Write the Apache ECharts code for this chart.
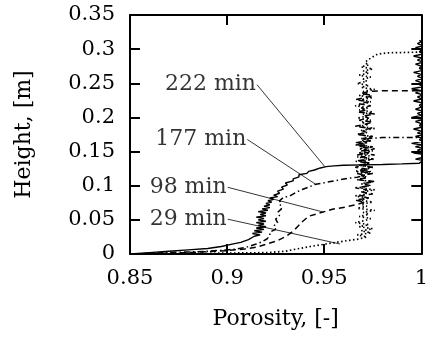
<!DOCTYPE html>
<html><head><meta charset="utf-8">
<script src="https://cdn.jsdelivr.net/npm/echarts@6/dist/echarts.min.js"></script>
<style>html,body{margin:0;padding:0;background:#fff}#c{width:431px;height:338px}</style>
</head><body><div id="c"></div>
<script>
// ---- data: [porosity, height] ----
const curve222 = [
[0.850,0.000],[0.860,0.002],[0.870,0.004],[0.880,0.006],[0.890,0.008],[0.897,0.011],[0.902,0.014],[0.907,0.017],[0.911,0.021],[0.914,0.026],
[0.917,0.028],[0.913,0.030],[0.918,0.032],[0.914,0.034],[0.919,0.036],[0.915,0.038],[0.920,0.040],[0.916,0.042],[0.919,0.044],[0.915,0.046],
[0.920,0.048],[0.916,0.050],[0.919,0.052],[0.915,0.054],[0.920,0.056],[0.917,0.058],[0.920,0.060],[0.916,0.062],[0.921,0.064],[0.918,0.066],
[0.922,0.068],[0.919,0.070],[0.922,0.072],[0.920,0.074],[0.923,0.076],[0.921,0.078],[0.924,0.080],[0.922,0.082],[0.926,0.084],[0.924,0.086],
[0.927,0.089],[0.926,0.092],[0.929,0.095],[0.928,0.098],[0.931,0.101],[0.930,0.104],[0.934,0.107],[0.934,0.110],[0.937,0.113],[0.937,0.116],
[0.941,0.118],[0.942,0.121],[0.945,0.123],[0.948,0.126],[0.951,0.128],[0.955,0.129],[0.960,0.130],[0.970,0.1305],[0.980,0.131],[0.990,0.132],[0.999,0.133],
[0.998,0.135],[1.001,0.137],[0.997,0.139],[1.000,0.141],[0.999,0.143],[1.001,0.146],[0.996,0.148],[1.000,0.150],[0.998,0.152],[1.001,0.155],
[0.997,0.157],[1.000,0.160],[0.995,0.162],[1.001,0.165],[0.999,0.167],[1.000,0.170],[0.997,0.172],[1.001,0.175],[0.998,0.177],[1.000,0.180],
[0.996,0.183],[1.001,0.186],[0.999,0.188],[1.000,0.191],[0.997,0.194],[1.001,0.197],[0.995,0.200],[1.000,0.203],[0.998,0.206],[1.001,0.209],
[0.997,0.212],[1.000,0.215],[0.999,0.218],[1.001,0.221],[0.996,0.224],[1.000,0.227],[0.998,0.230],[1.001,0.233],[0.997,0.236],[1.000,0.239],
[0.995,0.242],[1.001,0.245],[0.999,0.248],[1.000,0.251],[0.997,0.254],[1.001,0.257],[0.998,0.260],[1.000,0.263],[0.996,0.266],[1.001,0.269],
[0.999,0.272],[1.000,0.275],[0.997,0.278],[1.001,0.281],[0.998,0.284],[1.000,0.287],[0.996,0.290],[1.001,0.293],[0.999,0.296],[1.000,0.299],
[0.997,0.302],[1.001,0.305],[0.998,0.308],[1.000,0.311],[0.999,0.313]
];
const curve177 = [
[0.850,0.000],[0.870,0.002],[0.890,0.004],[0.900,0.006],[0.905,0.0073],[0.910,0.010],[0.915,0.0146],[0.918,0.018],[0.9205,0.022],[0.922,0.027],
[0.922,0.032],[0.925,0.036],[0.924,0.041],[0.926,0.046],[0.925,0.051],[0.927,0.056],[0.926,0.061],[0.928,0.066],[0.927,0.070],[0.928,0.074],
[0.927,0.078],[0.929,0.083],[0.932,0.0846],[0.9356,0.0904],[0.939,0.0948],[0.9456,0.102],[0.954,0.1065],[0.962,0.1108],[0.967,0.1123],
[0.971,0.115],[0.967,0.118],[0.974,0.121],[0.969,0.124],[0.975,0.127],[0.968,0.130],[0.973,0.133],[0.966,0.136],[0.972,0.139],[0.969,0.142],
[0.976,0.145],[0.968,0.148],[0.973,0.151],[0.970,0.154],[0.975,0.157],[0.967,0.160],[0.972,0.163],[0.969,0.166],[0.973,0.169],
[0.980,0.1705],[0.990,0.1705],[1.000,0.1706]
];
const curve98 = [
[0.850,0.000],[0.880,0.002],[0.900,0.005],[0.909,0.0073],[0.9154,0.0102],[0.9205,0.0146],[0.9255,0.019],[0.9305,0.026],[0.934,0.0335],[0.9366,0.041],
[0.939,0.048],[0.9421,0.0554],[0.9492,0.0613],[0.9542,0.0656],[0.9607,0.0685],[0.9673,0.0729],
[0.971,0.076],[0.966,0.079],[0.973,0.082],[0.968,0.085],[0.975,0.088],[0.969,0.091],[0.972,0.094],[0.966,0.097],[0.974,0.100],[0.970,0.103],
[0.976,0.106],[0.967,0.109],[0.972,0.112],[0.969,0.115],[0.975,0.118],[0.968,0.121],[0.973,0.124],[0.966,0.127],[0.971,0.130],[0.974,0.133],
[0.968,0.136],[0.975,0.139],[0.970,0.142],[0.967,0.145],[0.973,0.148],[0.969,0.151],[0.976,0.154],[0.968,0.157],[0.972,0.160],[0.966,0.163],
[0.974,0.166],[0.970,0.169],[0.975,0.172],[0.967,0.175],[0.972,0.178],[0.969,0.181],[0.974,0.184],[0.966,0.187],[0.971,0.190],[0.975,0.193],
[0.968,0.196],[0.973,0.199],[0.970,0.202],[0.976,0.205],[0.967,0.208],[0.972,0.211],[0.969,0.214],[0.974,0.217],[0.968,0.220],[0.973,0.223],
[0.966,0.226],[0.971,0.229],[0.975,0.232],[0.969,0.235],[0.973,0.238],[0.980,0.239],[0.990,0.239],[1.000,0.239]
];
const curve29 = [
[0.850,0.000],[0.890,0.001],[0.920,0.002],[0.930,0.004],[0.9356,0.0073],[0.943,0.011],[0.9507,0.0146],[0.957,0.0175],[0.963,0.020],[0.968,0.022],
[0.972,0.025],[0.967,0.028],[0.974,0.031],[0.969,0.034],[0.975,0.037],[0.968,0.040],[0.973,0.043],[0.966,0.046],[0.971,0.049],[0.974,0.052],
[0.968,0.055],[0.973,0.058],[0.970,0.061],[0.976,0.064],[0.967,0.067],[0.972,0.070],[0.969,0.073],[0.975,0.076],[0.968,0.079],[0.973,0.082],
[0.966,0.085],[0.972,0.088],[0.970,0.091],[0.976,0.094],[0.968,0.097],[0.973,0.100],[0.969,0.103],[0.975,0.106],[0.967,0.109],[0.972,0.112],
[0.970,0.115],[0.974,0.118],[0.966,0.121],[0.971,0.124],[0.975,0.127],[0.968,0.130],[0.973,0.133],[0.969,0.136],[0.976,0.139],[0.967,0.142],
[0.972,0.145],[0.970,0.148],[0.975,0.151],[0.968,0.154],[0.973,0.157],[0.966,0.160],[0.971,0.163],[0.974,0.166],[0.969,0.169],[0.975,0.172],
[0.967,0.175],[0.972,0.178],[0.970,0.181],[0.976,0.184],[0.968,0.187],[0.973,0.190],[0.969,0.193],[0.974,0.196],[0.967,0.199],[0.972,0.202],
[0.970,0.205],[0.975,0.208],[0.968,0.211],[0.973,0.214],[0.966,0.217],[0.971,0.220],[0.974,0.223],[0.969,0.226],[0.975,0.229],[0.968,0.232],
[0.972,0.235],[0.970,0.238],[0.976,0.241],[0.969,0.244],[0.973,0.247],[0.967,0.250],[0.972,0.253],[0.970,0.256],[0.974,0.259],[0.968,0.262],
[0.973,0.265],[0.970,0.268],[0.975,0.271],[0.969,0.274],[0.973,0.277],[0.971,0.280],[0.9723,0.284],[0.9774,0.2925],[0.9824,0.2946],[0.990,0.2950],
[0.996,0.2955],[1.000,0.296]
];
// annotations: label, leader start (at label), leader end (on curve)
const annLabels = ['222 min','177 min','98 min','29 min'];
const annFrom = [[0.9154,0.2479],[0.9104,0.1677],[0.9003,0.0977],[0.9003,0.0510]];
const annTo   = [[0.9502,0.1283],[0.9456,0.1021],[0.9497,0.0613],[0.9582,0.0146]];
const xTicks = {min:0.85, max:1.0, step:0.05};
const yTicks = {min:0, max:0.35, step:0.05};

const FONT = 'DejaVu Serif';
const chart = echarts.init(document.getElementById('c'), null, {renderer:'canvas'});
const fmt = v => String(+(+v).toFixed(2));
const axisCommon = {
  axisLine:{show:true, onZero:false, lineStyle:{color:'#000', width:2}},
  axisTick:{show:true, inside:true, length:10, lineStyle:{color:'#000', width:2}},
  splitLine:{show:false}
};
const series = [];
function addCurve(d, type, width){
  series.push({type:'line', data:d, showSymbol:false, symbol:'none', silent:true,
    lineStyle:{color:'#000', width:width, type:type}, clip:true, z:3});
}
addCurve(curve222, 'solid', 1.4);
addCurve(curve177, [6,3,1.5,3], 1.5);
addCurve(curve98, [6,4], 1.5);
addCurve(curve29, [1.5,2.5], 1.7);
annLabels.forEach((t,i)=>{
  series.push({type:'line', data:[annFrom[i], annTo[i]], symbol:'none', silent:true,
    lineStyle:{color:'#000', width:0.8}, z:4});
  series.push({type:'scatter', data:[annFrom[i]], symbolSize:0, silent:true, z:5,
    label:{show:true, position:'left', distance:1, formatter:t,
      fontFamily:FONT, fontSize:22, color:'#000'}});
});
chart.setOption({
  animation:false,
  grid:{left:130, right:3, top:15, bottom:84},
  xAxis:[
    Object.assign({type:'value', position:'bottom', min:xTicks.min, max:xTicks.max, interval:xTicks.step,
      name:'Porosity, [-]', nameLocation:'middle', nameGap:54,
      nameTextStyle:{fontFamily:FONT, fontSize:22, color:'#000'},
      axisLabel:{formatter:fmt, fontFamily:FONT, fontSize:21, color:'#000', margin:14}}, axisCommon),
    Object.assign({type:'value', position:'top', min:xTicks.min, max:xTicks.max, interval:xTicks.step,
      axisLabel:{show:false}}, axisCommon)
  ],
  yAxis:[
    Object.assign({type:'value', position:'left', min:yTicks.min, max:yTicks.max, interval:yTicks.step,
      name:'Height, [m]', nameLocation:'middle', nameGap:95, nameRotate:90,
      nameTextStyle:{fontFamily:FONT, fontSize:22, color:'#000'},
      axisLabel:{formatter:fmt, fontFamily:FONT, fontSize:21, color:'#000', margin:15}}, axisCommon),
    Object.assign({type:'value', position:'right', min:yTicks.min, max:yTicks.max, interval:yTicks.step,
      axisLabel:{show:false}}, axisCommon)
  ],
  series:series
});
</script></body></html>
